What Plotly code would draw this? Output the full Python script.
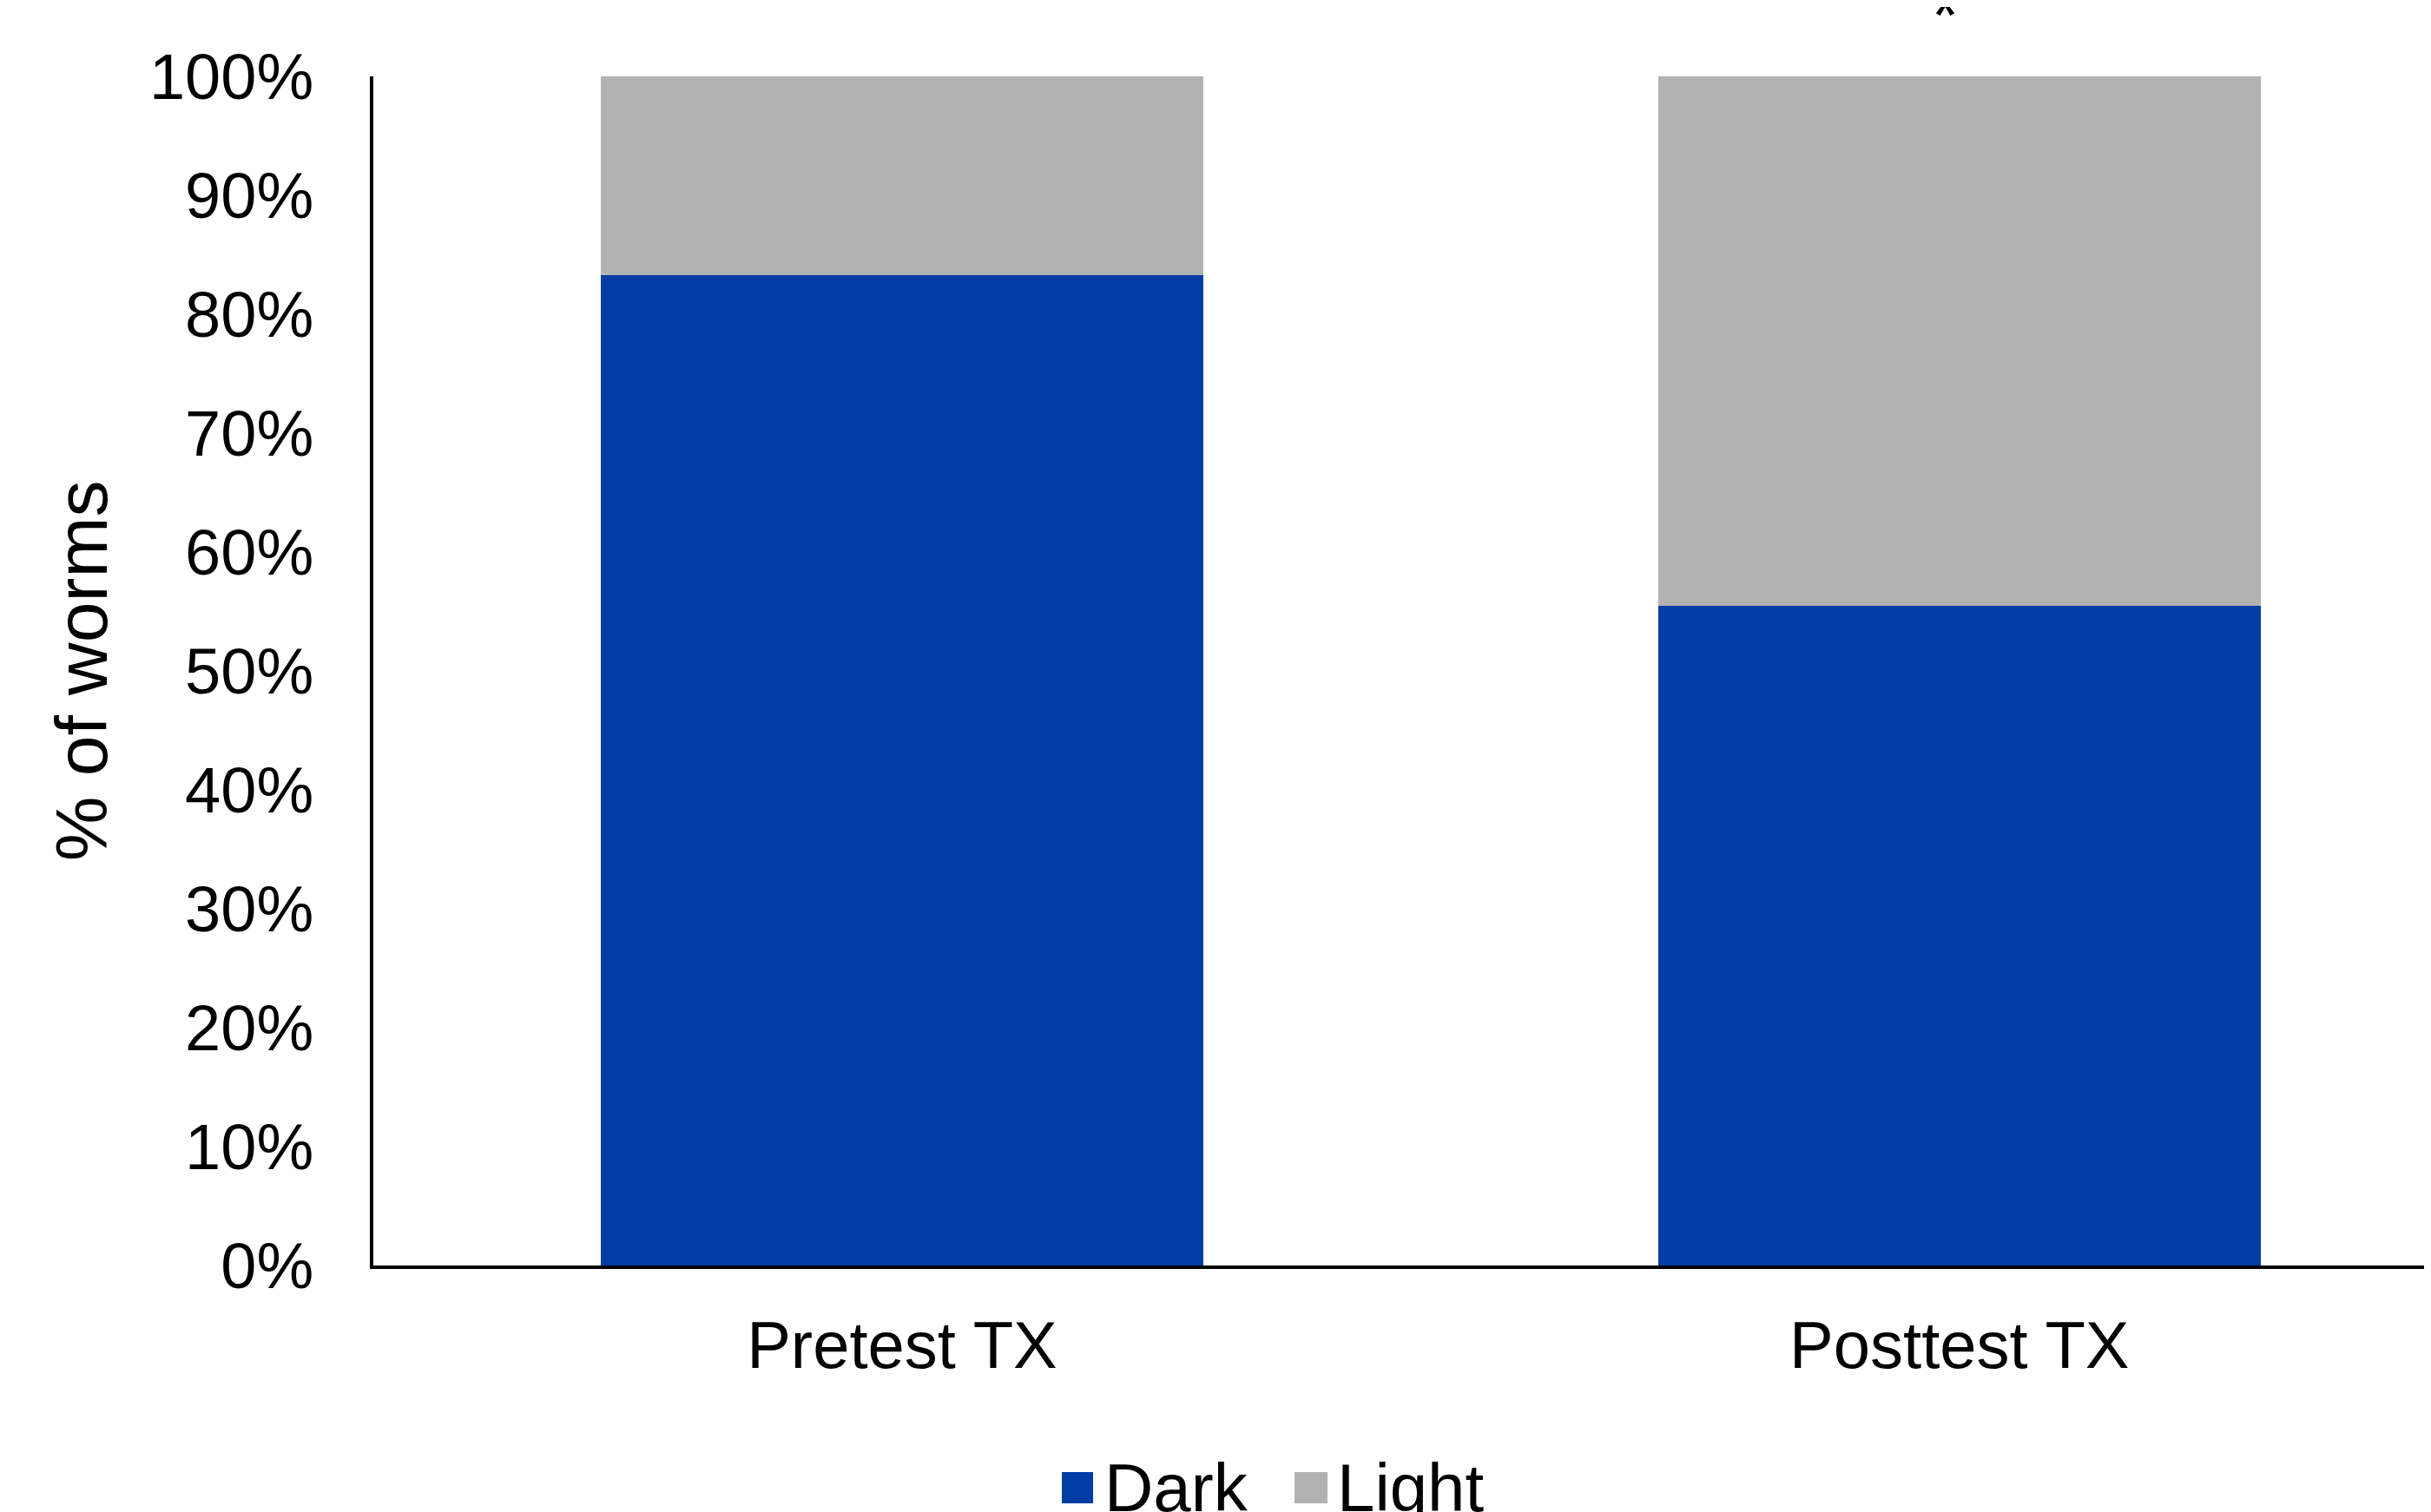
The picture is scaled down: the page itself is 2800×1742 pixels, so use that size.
import plotly.graph_objects as go

categories = ["Pretest TX", "Posttest TX"]
dark = [0.833, 0.555]
light = [0.167, 0.445]
series_names = ["Dark", "Light"]
colors = ["#003DA5", "#B1B2B1"]
y_ticks = [i / 10 for i in range(11)]

W, H = 2800, 1742
OFF = 8  # page body margin
L, R, T, B = 430 - OFF, OFF, 88 - OFF, 284 + OFF
font = "Liberation Sans, Arial, sans-serif"

fig = go.Figure()
for name, vals, col in zip(series_names, [dark, light], colors):
    fig.add_trace(go.Bar(x=categories, y=vals, name=name, marker=dict(color=col, line=dict(width=0)),
                         width=0.57, showlegend=False))

pw, ph = W - L - R, H - T - B
def px(x): return (x - OFF - L) / pw
def py(y): return (H - B - (y - OFF)) / ph

shapes = []
annotations = []
# manual legend
leg = [("Dark", colors[0], 1223, 1259, 1270), ("Light", colors[1], 1491, 1529, 1538)]
for name, col, x0, x1, tx in leg:
    shapes.append(dict(type="rect", xref="paper", yref="paper", x0=px(x0), x1=px(x1),
                       y0=py(1732), y1=py(1696), fillcolor=col, line=dict(width=0)))
    annotations.append(dict(text=name, xref="paper", yref="paper", x=px(tx), y=py(1714),
                            xanchor="left", yanchor="middle", showarrow=False,
                            font=dict(family=font, size=78, color="black")))
annotations.append(dict(text="*", xref="x", yref="paper", x=categories[1], xshift=-16,
                        y=py(17), yanchor="middle", showarrow=False,
                        font=dict(family=font, size=80, color="black")))

fig.update_layout(
    width=W, height=H,
    margin=dict(l=L, r=R, t=T, b=B, autoexpand=False),
    barmode="stack",
    plot_bgcolor="white", paper_bgcolor="white",
    font=dict(family=font, size=74, color="black"),
    shapes=shapes, annotations=annotations,
    showlegend=False,
)
fig.update_xaxes(range=[-0.5, 1.446], showline=True, linecolor="black", linewidth=4,
                 showgrid=False, ticks="", tickfont=dict(size=76), ticklabelstandoff=23,
                 automargin=False)
fig.update_yaxes(range=[0, 1], tickvals=y_ticks, tickformat=".0%", showline=True,
                 linecolor="black", linewidth=4, showgrid=False, zeroline=False, ticks="",
                 tickfont=dict(size=74), ticklabelstandoff=50,
                 title=dict(text="% of worms", font=dict(size=84), standoff=22),
                 automargin=False)
fig.write_html("out.html")
